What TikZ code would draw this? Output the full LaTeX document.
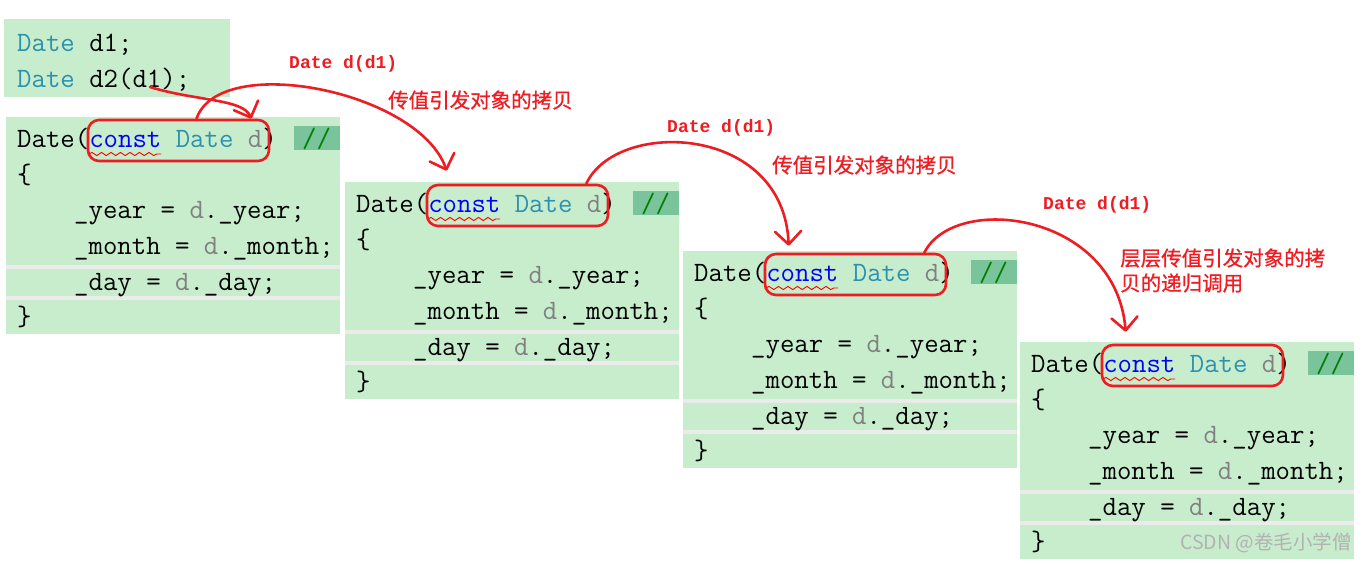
\documentclass[tikz,border=0pt]{standalone}
\usepackage{fontspec}
\newfontfamily\cjk{Noto Sans CJK SC}[FakeBold=0.8]
\newfontfamily\markfont{Noto Sans CJK SC}
\newfontfamily\penfont{Liberation Mono}
\usetikzlibrary{arrows.meta,calc,decorations.pathmorphing}
\definecolor{codebg}{HTML}{C7EDCC}
\definecolor{notebg}{HTML}{7AC49B}
\definecolor{rowline}{HTML}{E9ECE9}
\definecolor{typeteal}{HTML}{2B91AF}
\definecolor{kwblue}{HTML}{0000FF}
\definecolor{argray}{HTML}{808080}
\definecolor{notegreen}{HTML}{008000}
\definecolor{pen}{HTML}{EE1D23}
\tikzset{
	code/.style={anchor=base west, inner sep=0pt, font=\ttfamily\fontsize{28}{30}\selectfont},
	ring/.style={draw=pen, line width=2.6pt, rounded corners=11pt, minimum width=181pt, minimum height=41pt, inner sep=0pt},
	scrawl/.style={draw=pen, line width=2.6pt, line cap=round, line join=round, -{Straight Barb[length=13pt,width=26pt,round]}},
	note/.style={text=pen, inner sep=0pt, anchor=base west, font=\penfont\bfseries\fontsize{18}{20}\selectfont},
	hint/.style={text=pen, inner sep=0pt, anchor=west, align=left, font=\cjk\fontsize{20.5}{25}\selectfont}
}
% one copy-constructor block: #1 name, (#2,#3) top left corner
\newcommand{\dateblock}[3]{%
	\begin{scope}[shift={(#2,#3)}]
		\fill[codebg] (0,0) rectangle (334,217);
		\fill[rowline] (0,148) rectangle (334,152);
		\fill[rowline] (0,179) rectangle (334,183);
		\fill[notebg] (288,9) rectangle (334,33);
		\begin{scope}
			\clip (288,9) rectangle (334,33);
			\node[code, text=notegreen] at (296,30) {//};
		\end{scope}
		\node[code] (head#1) at (11,30) {Date(\textcolor{kwblue}{const} \textcolor{typeteal}{Date} \textcolor{argray}{d})};
		\draw[red, line width=0.9pt, decorate, decoration={snake, amplitude=1.6pt, segment length=9.5pt}] (83,37) -- (155,37);
		\node[code] at (11,66) {\{};
		\node[code] at (68,101) {\_year = \textcolor{argray}{d}.\_year;};
		\node[code] at (68,137) {\_month = \textcolor{argray}{d}.\_month;};
		\node[code] at (68,173) {\_day = \textcolor{argray}{d}.\_day;};
		\node[code] at (11,208) {\}};
		\node[ring] (ring#1) at (172.5,23.5) {};
	\end{scope}
}

\begin{document}
\begin{tikzpicture}[x=1pt, y=-1pt]
	\useasboundingbox (0,0) rectangle (1367,563);
	\fill[white] (0,0) rectangle (1367,563);

	% caller
	\fill[codebg] (4,19) rectangle (230,97);
	\node[code] (decl1) at (17,51) {\textcolor{typeteal}{Date} d1;};
	\node[code] (decl2) at (17,87) {\textcolor{typeteal}{Date} d2(d1);};
	\coordinate (callarg) at ([xshift=133pt]decl2.base west);

	\dateblock{1}{6}{117}
	\dateblock{2}{345}{182}
	\dateblock{3}{683}{251}
	\dateblock{4}{1020}{342}

	% red notes
	\node[note] (call1) at (289,68) {Date d(d1)};
	\node[hint] (copy1) at (388,100) {传值引发对象的拷贝};
	\node[note] (call2) at (667,132) {Date d(d1)};
	\node[hint] (copy2) at (772,165) {传值引发对象的拷贝};
	\node[note] (call3) at (1043,209) {Date d(d1)};
	\node[hint] (copy3) at (1120,270.5) {层层传值引发对象的拷\\贝的递归调用};

	% hand drawn arrows
	\draw[scrawl] (callarg) .. controls +(45,14) and +(-8,-20) .. ([xshift=-19pt]ring1.north east);
	\draw[scrawl] ([xshift=18pt]ring1.north) .. controls +(23,-67) and +(-28,-80) .. ([xshift=21pt,yshift=13pt]ring2.north west);
	\draw[scrawl] ([xshift=-23pt]ring2.north east) .. controls +(30,-65) and +(-5,-122) .. ([xshift=25pt,yshift=7pt]ring3.north west);
	\draw[scrawl] ([xshift=-23pt]ring3.north east) .. controls +(30,-60) and +(-10,-120) .. ([xshift=25pt,yshift=12pt]ring4.north west);

	\node[anchor=east, inner sep=0pt, text=gray!60, font=\markfont\fontsize{19.5}{20}\selectfont] (mark) at (1352,543) {CSDN @卷毛小学僧};
\end{tikzpicture}
\end{document}
